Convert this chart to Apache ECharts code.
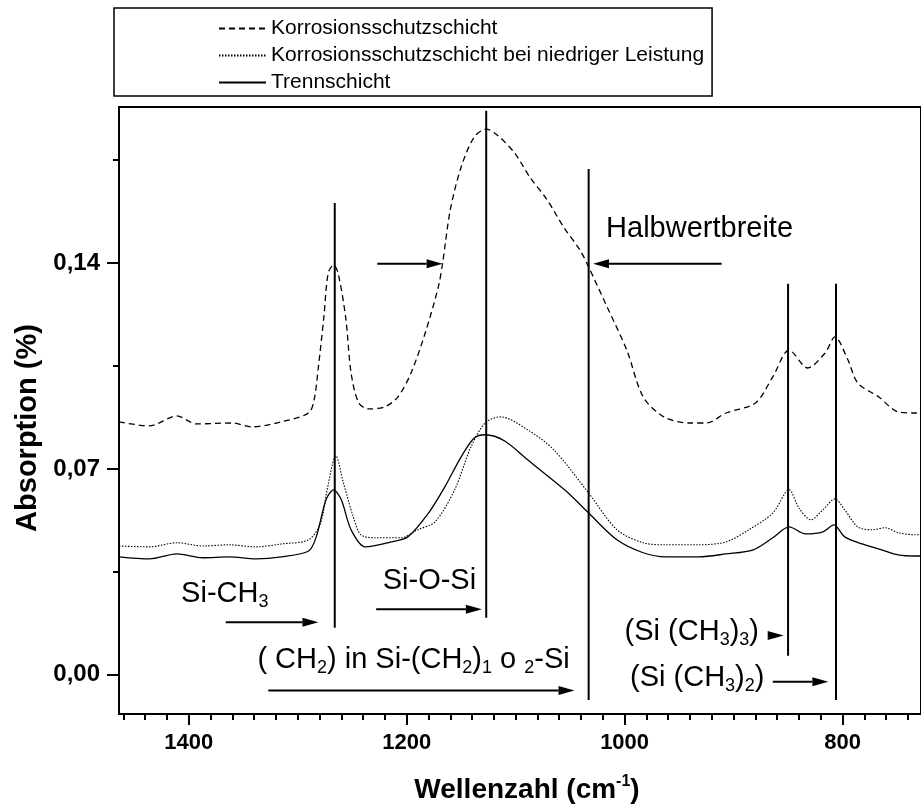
<!DOCTYPE html>
<html>
<head>
<meta charset="utf-8">
<script src="https://cdn.jsdelivr.net/npm/echarts@6/dist/echarts.min.js"></script>
<style>
  html, body { margin: 0; padding: 0; background: #fff; }
  #chart { width: 921px; height: 812px; }
</style>
</head>
<body>
<div id="chart"></div>
<script>
// IR absorption spectra (wavenumber in cm^-1, absorption in %)
const dashedWn  = [1464, 1436, 1411, 1393, 1360, 1342, 1315, 1290, 1285, 1281, 1276, 1272, 1267, 1263, 1256, 1251, 1244, 1235, 1220, 1208, 1196, 1183, 1171, 1167, 1160, 1150, 1138, 1127, 1117, 1101, 1087, 1071, 1056, 1041, 1033, 1016, 998, 983, 964, 941, 925, 907, 880, 864, 849, 832, 816, 807, 795, 786, 767, 749, 733, 728];
const dashedAbs = [0.0860, 0.0846, 0.0880, 0.0853, 0.0856, 0.0843, 0.0860, 0.0890, 0.0934, 0.1047, 0.1216, 0.1366, 0.1393, 0.1366, 0.1216, 0.1026, 0.0924, 0.0904, 0.0911, 0.0945, 0.1026, 0.1162, 0.1318, 0.1400, 0.1580, 0.1726, 0.1828, 0.1855, 0.1835, 0.1774, 0.1692, 0.1614, 0.1522, 0.1444, 0.1386, 0.1250, 0.1104, 0.0945, 0.0877, 0.0856, 0.0856, 0.0890, 0.0924, 0.1013, 0.1104, 0.1043, 0.1094, 0.1149, 0.1070, 0.0992, 0.0945, 0.0894, 0.0890, 0.0890];

const dottedWn  = [1464, 1436, 1411, 1387, 1363, 1338, 1315, 1290, 1279, 1273, 1265, 1258, 1249, 1242, 1229, 1205, 1190, 1174, 1156, 1141, 1128, 1114, 1089, 1065, 1033, 1007, 983, 962, 932, 907, 886, 864, 849, 840, 829, 818, 807, 798, 786, 773, 761, 749, 733, 728];
const dottedAbs = [0.0438, 0.0435, 0.0449, 0.0438, 0.0442, 0.0435, 0.0445, 0.0459, 0.0516, 0.0629, 0.0744, 0.0652, 0.0537, 0.0476, 0.0466, 0.0466, 0.0493, 0.0520, 0.0629, 0.0775, 0.0856, 0.0877, 0.0833, 0.0765, 0.0618, 0.0493, 0.0449, 0.0442, 0.0442, 0.0452, 0.0493, 0.0550, 0.0629, 0.0567, 0.0527, 0.0561, 0.0598, 0.0561, 0.0503, 0.0493, 0.0500, 0.0483, 0.0476, 0.0476];

const solidWn  = [1464, 1436, 1411, 1387, 1363, 1338, 1315, 1290, 1283, 1274, 1267, 1260, 1251, 1238, 1214, 1199, 1180, 1165, 1150, 1138, 1128, 1110, 1089, 1074, 1053, 1033, 1007, 983, 962, 932, 907, 882, 864, 849, 834, 818, 808, 798, 782, 764, 749, 733, 728];
const solidAbs = [0.0401, 0.0394, 0.0411, 0.0398, 0.0401, 0.0394, 0.0401, 0.0421, 0.0469, 0.0595, 0.0629, 0.0595, 0.0493, 0.0435, 0.0452, 0.0469, 0.0550, 0.0639, 0.0741, 0.0805, 0.0816, 0.0795, 0.0731, 0.0686, 0.0622, 0.0550, 0.0459, 0.0415, 0.0401, 0.0401, 0.0411, 0.0425, 0.0466, 0.0503, 0.0479, 0.0486, 0.0510, 0.0469, 0.0445, 0.0425, 0.0408, 0.0404, 0.0404];

const seriesNames = ['Korrosionsschutzschicht', 'Korrosionsschutzschicht bei niedriger Leistung', 'Trennschicht'];

// band markers: [wavenumber, lower end, upper end]
const bandLines = [[1266, 0.0160, 0.1604], [1127, 0.0194, 0.1917], [1033, -0.0085, 0.1719], [850, 0.0065, 0.1329], [806, -0.0085, 0.1329]];

// arrows: [start wavenumber, tip wavenumber, absorption level]
const arrows = [[1227, 1167, 0.1397], [911, 1029, 0.1397], [1366, 1281, 0.0179], [1228, 1131, 0.0223], [1327, 1046, -0.0053], [869, 854, 0.0134], [864, 813, -0.0023]];

// annotation texts: anchor [wavenumber, absorption] at the left end of the text
const noteAnchors = [[1017, 0.1516], [1222, 0.0319], [1407, 0.0275], [1337, 0.0051], [1000, 0.0146], [995, -0.0010]];
const noteTexts = ['Halbwertbreite', 'Si-O-Si', 'Si-CH{s|3}', '( CH{s|2}) in Si-(CH{s|2}){s|1} o {s|2}-Si', '(Si (CH{s|3}){s|3})', '(Si (CH{s|3}){s|2})'];

const xMajorTicks = [800, 1000, 1200, 1400];
const yMajorTicks = [0, 0.07, 0.14];
const yMinorTicks = [0.035, 0.105, 0.175];
const yTickLabels = ['0,00', '0,07', '0,14'];

const X_MIN = 728, X_MAX = 1464;
const Y_MIN = -0.0133, Y_MAX = 0.193;

const xMinorTicks = [];
for (let w = 740; w <= 1460; w += 20) {
  if (w % 200 !== 0) xMinorTicks.push(w);
}

const FONT = 'Liberation Sans, Arial, Helvetica, sans-serif';
const zip = (a, b) => a.map((v, i) => [v, b[i]]);

const chart = echarts.init(document.getElementById('chart'), null, { renderer: 'canvas' });

const tickStyle = { color: '#000', width: 2 };

function spectrum(name, wn, ab, lineType, width) {
  return {
    name: name,
    type: 'line',
    data: zip(wn, ab),
    symbol: 'none',
    smooth: 0.3,
    silent: true,
    itemStyle: { color: '#000' },
    lineStyle: { color: '#000', width: width, type: lineType },
    z: 3
  };
}

const option = {
  animation: false,
  backgroundColor: '#fff',
  grid: {
    left: 119, top: 107, width: 807, height: 607,
    show: true, borderColor: '#000', borderWidth: 2, backgroundColor: 'transparent'
  },
  legend: {
    data: seriesNames,
    orient: 'vertical',
    left: 114, top: 8,
    itemWidth: 47, itemHeight: 20, itemGap: 6,
    padding: [10, 8, 3, 104],
    borderColor: '#000', borderWidth: 1.5,
    selectedMode: false,
    itemStyle: { opacity: 0, color: 'rgba(0,0,0,0)', borderWidth: 0 },
    textStyle: { fontFamily: FONT, fontSize: 21, color: '#000', lineHeight: 21 }
  },
  xAxis: [{
    type: 'value', inverse: true, min: X_MIN, max: X_MAX,
    axisLine: { show: true, onZero: false, lineStyle: { color: '#000', width: 2 } },
    axisTick: { show: true, customValues: xMajorTicks, length: 11, lineStyle: tickStyle },
    axisLabel: {
      customValues: xMajorTicks, margin: 18,
      fontFamily: FONT, fontSize: 22, fontWeight: 'bold', color: '#000',
      formatter: (v) => String(v)
    },
    splitLine: { show: false }
  }, {
    type: 'value', inverse: true, min: X_MIN, max: X_MAX, position: 'bottom',
    axisLine: { show: false, onZero: false },
    axisTick: { show: true, customValues: xMinorTicks, length: 6, lineStyle: tickStyle },
    axisLabel: { show: false },
    splitLine: { show: false }
  }],
  yAxis: [{
    type: 'value', min: Y_MIN, max: Y_MAX,
    axisLine: { show: true, onZero: false, lineStyle: { color: '#000', width: 2 } },
    axisTick: { show: true, customValues: yMajorTicks, length: 12, lineStyle: tickStyle },
    axisLabel: {
      customValues: yMajorTicks, margin: 19,
      fontFamily: FONT, fontSize: 24, fontWeight: 'bold', color: '#000',
      formatter: (v) => yTickLabels[yMajorTicks.findIndex(t => Math.abs(t - v) < 1e-9)] || ''
    },
    splitLine: { show: false }
  }, {
    type: 'value', min: Y_MIN, max: Y_MAX, position: 'left',
    axisLine: { show: false, onZero: false },
    axisTick: { show: true, customValues: yMinorTicks, length: 6, lineStyle: tickStyle },
    axisLabel: { show: false },
    splitLine: { show: false }
  }],
  series: [
    spectrum(seriesNames[0], dashedWn, dashedAbs, [6, 4], 1.3),
    spectrum(seriesNames[1], dottedWn, dottedAbs, [1.5, 1.5], 1.1),
    spectrum(seriesNames[2], solidWn, solidAbs, 'solid', 1.3),
    {
      // vertical band markers
      type: 'custom', silent: true, z: 4,
      data: bandLines,
      encode: { x: 0, y: [1, 2] },
      renderItem: (params, api) => {
        const a = api.coord([api.value(0), api.value(1)]);
        const b = api.coord([api.value(0), api.value(2)]);
        return {
          type: 'line',
          shape: { x1: a[0], y1: a[1], x2: b[0], y2: b[1] },
          style: { stroke: '#000', lineWidth: 2 }
        };
      }
    },
    {
      // horizontal arrows with filled heads
      type: 'custom', silent: true, z: 4,
      data: arrows,
      encode: { x: [0, 1], y: 2 },
      renderItem: (params, api) => {
        const a = api.coord([api.value(0), api.value(2)]);
        const b = api.coord([api.value(1), api.value(2)]);
        const dir = b[0] > a[0] ? 1 : -1;
        const headLen = 16, headHalf = 4.5;
        const baseX = b[0] - dir * headLen;
        const children = [];
        if (Math.abs(baseX - a[0]) > 1 && (baseX - a[0]) * dir > 0) {
          children.push({
            type: 'line',
            shape: { x1: a[0], y1: a[1], x2: baseX, y2: b[1] },
            style: { stroke: '#000', lineWidth: 2 }
          });
        }
        children.push({
          type: 'polygon',
          shape: { points: [[b[0], b[1]], [baseX, b[1] - headHalf], [baseX, b[1] + headHalf]] },
          style: { fill: '#000' }
        });
        return { type: 'group', children: children };
      }
    },
    {
      // band annotations
      type: 'custom', silent: true, z: 5,
      data: noteAnchors,
      encode: { x: 0, y: 1 },
      renderItem: (params, api) => {
        const p = api.coord([api.value(0), api.value(1)]);
        return {
          type: 'text',
          x: p[0], y: p[1],
          style: {
            text: noteTexts[params.dataIndex],
            fill: '#000',
            font: '29px ' + FONT,
            lineHeight: 34,
            align: 'left',
            verticalAlign: 'middle',
            rich: {
              s: { fontSize: 18, fontFamily: FONT, lineHeight: 6, verticalAlign: 'bottom', fill: '#000' }
            }
          }
        };
      }
    }
  ],
  graphic: [
    {
      type: 'text', x: 28, y: 428, rotation: Math.PI / 2,
      style: {
        text: 'Absorption (%)', fill: '#000',
        font: 'bold 29px ' + FONT, align: 'center', verticalAlign: 'middle'
      }
    },
    {
      type: 'text', x: 527, y: 790,
      style: {
        text: 'Wellenzahl (cm{sup|-1})', fill: '#000',
        font: 'bold 28px ' + FONT, lineHeight: 32,
        align: 'center', verticalAlign: 'middle',
        rich: {
          sup: { fontSize: 16, fontWeight: 'bold', fontFamily: FONT, lineHeight: 12, verticalAlign: 'top', fill: '#000' }
        }
      }
    }
  ]
};

chart.setOption(option);
</script>
</body>
</html>
